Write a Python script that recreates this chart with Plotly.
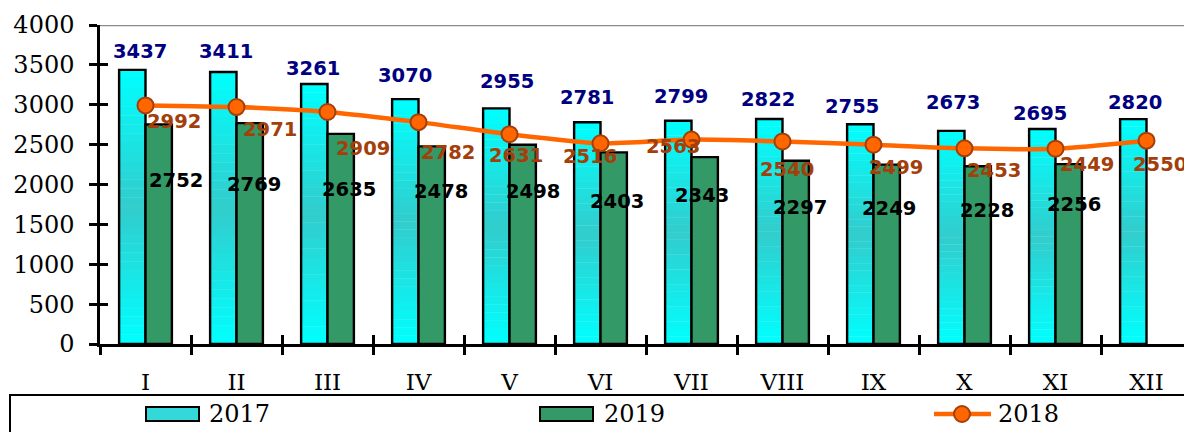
import plotly.graph_objects as go

# ---------------- data ----------------
months = ["I", "II", "III", "IV", "V", "VI", "VII", "VIII", "IX", "X", "XI", "XII"]
v2017 = [3437, 3411, 3261, 3070, 2955, 2781, 2799, 2822, 2755, 2673, 2695, 2820]
v2019 = [2752, 2769, 2635, 2478, 2498, 2403, 2343, 2297, 2249, 2228, 2256, None]
v2018 = [2992, 2971, 2909, 2782, 2631, 2516, 2563, 2540, 2499, 2453, 2449, 2550]
y_ticks = [0, 500, 1000, 1500, 2000, 2500, 3000, 3500, 4000]

# ---------------- label nudges (pixels, style only) ----------------
lab17_dx = [8, 3, -1, 0, 11, 0, 3, -1, -8, 2, -2, 2]
lab17_dy = [18, 20, 15, 24, 27, 25, 24, 19, 18, 28, 16, 17]
lab19_dx = [17, 4, 8, 9, 10, 3, -3, 4, 2, 9, 5, 0]
lab19_dy = [56, 61, 56, 45, 47, 49, 38, 47, 44, 44, 40, 0]
lab18_dx = [28, 33, 35, 29, 6, -11, -19, 4, 22, 29, 31, 13]
lab18_dy = [16, 22, 36, 30, 21, 13, 7, 28, 23, 22, 16, 24]

BW = 0.29
CYAN = (0, 255, 255)
TEAL = (51, 204, 204)
GREEN = "#339966"
ORANGE = "#FF6600"
BROWN = "#A33F0B"
NAVY = "#000080"
SERIF = "DejaVu Serif"
SANS = "DejaVu Sans"

xs = list(range(len(months)))
fig = go.Figure()

# 2017 bars with a vertical centre gradient (segments of each bar)
N = 30
for k in range(N):
    f = (k + 0.5) / N
    t = 1 - abs(2 * f - 1)
    col = "rgb(%d,%d,%d)" % tuple(round(CYAN[i] + (TEAL[i] - CYAN[i]) * t) for i in range(3))
    seg = [v / N * (1.04 if k < N - 1 else 1.0) for v in v2017]
    base = [v * k / N for v in v2017]
    fig.add_trace(go.Bar(x=xs, y=seg, base=base, offset=-BW, width=BW,
                         marker=dict(color=col, line=dict(width=0)),
                         hoverinfo="skip", showlegend=False))
# 2017 outline
fig.add_trace(go.Bar(x=xs, y=v2017, offset=-BW, width=BW, name="2017",
                     marker=dict(color="rgba(0,0,0,0)", line=dict(color="black", width=2.4))))
# 2019 bars
fig.add_trace(go.Bar(x=xs, y=v2019, offset=0, width=BW, name="2019",
                     marker=dict(color=GREEN, line=dict(color="black", width=2.4))))
# 2018 line
fig.add_trace(go.Scatter(x=xs, y=v2018, mode="lines+markers", name="2018",
                         line=dict(color=ORANGE, width=4.5, shape="spline", smoothing=0.6),
                         marker=dict(size=16, color=ORANGE, line=dict(color=BROWN, width=2))))
# helper trace for cross ticks axes
fig.add_trace(go.Scatter(x=[0], y=[0], xaxis="x2", yaxis="y2", mode="markers",
                         marker=dict(opacity=0), hoverinfo="skip", showlegend=False))

bounds = [i - 0.5 for i in range(len(months) + 1)]

ann = []
for i, v in enumerate(v2017):
    ann.append(dict(x=i - BW / 2, y=v, xref="x", yref="y", text="<b>%d</b>" % v,
                    showarrow=False, xshift=lab17_dx[i], yshift=lab17_dy[i],
                    font=dict(family=SANS, size=19.5, color=NAVY)))
for i, v in enumerate(v2019):
    if v is None:
        continue
    ann.append(dict(x=i + BW / 2, y=v, xref="x", yref="y", text="<b>%d</b>" % v,
                    showarrow=False, xshift=lab19_dx[i], yshift=-lab19_dy[i],
                    font=dict(family=SANS, size=19.5, color="black")))
for i, v in enumerate(v2018):
    ann.append(dict(x=i, y=v, xref="x", yref="y", text="<b>%d</b>" % v,
                    showarrow=False, xshift=lab18_dx[i], yshift=-lab18_dy[i],
                    font=dict(family=SANS, size=19.5, color=BROWN)))

# ---- manual legend (paper coords: plot spans x 100..1192 px, y 25..344 px on the page) ----
def px(x):
    return (x - 100) / 1092.0

def py(y):
    return (344 - y) / 319.0

LY = 414
shapes = [
    dict(type="line", xref="paper", yref="y", x0=0, x1=1, y0=4000, y1=4000,
         line=dict(color="#8C8C8C", width=2.5), layer="below"),
    dict(type="rect", xref="paper", yref="paper", x0=px(10), x1=px(1191), y0=py(395), y1=py(470),
         line=dict(color="black", width=2), fillcolor="rgba(0,0,0,0)"),
    dict(type="rect", xref="paper", yref="paper", x0=px(146), x1=px(199), y0=py(407), y1=py(421),
         line=dict(color="black", width=2), fillcolor="#33D8D8"),
    dict(type="rect", xref="paper", yref="paper", x0=px(540), x1=px(593), y0=py(407), y1=py(421),
         line=dict(color="black", width=2), fillcolor=GREEN),
    dict(type="line", xref="paper", yref="paper", x0=px(934), x1=px(991), y0=py(LY), y1=py(LY),
         line=dict(color=ORANGE, width=4.5)),
    dict(type="circle", xref="paper", yref="paper", xsizemode="pixel", ysizemode="pixel",
         xanchor=px(962), yanchor=py(LY), x0=-8, x1=8, y0=-8, y1=8,
         line=dict(color=BROWN, width=2), fillcolor=ORANGE),
]
for xx, txt in [(207, "2017"), (602, "2019"), (996, "2018")]:
    ann.append(dict(x=px(xx), y=py(LY), xref="paper", yref="paper", text=txt, showarrow=False,
                    xanchor="left", yanchor="middle", font=dict(family=SERIF, size=24, color="black")))

# page has an 8px body margin: the figure starts at (8, 8)
fig.update_layout(
    width=1184, height=424,
    margin=dict(l=92, r=0, t=17, b=88),
    plot_bgcolor="white", paper_bgcolor="white",
    barmode="overlay", showlegend=False,
    annotations=ann, shapes=shapes,
    xaxis=dict(range=[-0.5, 11.5], tickmode="array", tickvals=xs, ticktext=months,
               ticks="outside", ticklen=8, tickcolor="rgba(0,0,0,0)",
               showline=True, linecolor="black", linewidth=2.5, showgrid=False, zeroline=False,
               tickfont=dict(family=SERIF, size=23, color="black"), ticklabelstandoff=8,
               minor=dict(tickmode="array", tickvals=bounds, ticks="outside", ticklen=8,
                          tickwidth=2.5, tickcolor="black", showgrid=False)),
    yaxis=dict(range=[0, 4000], tickmode="array", tickvals=y_ticks,
               ticks="outside", ticklen=8, tickwidth=2.5, tickcolor="black",
               showline=True, linecolor="black", linewidth=2.5, showgrid=False, zeroline=False,
               tickfont=dict(family=SERIF, size=24, color="black"), ticklabelstandoff=10),
    xaxis2=dict(range=[-0.5, 11.5], overlaying="x", anchor="y2", side="bottom",
                tickmode="array", tickvals=bounds, ticks="inside", ticklen=9, tickwidth=2.5,
                tickcolor="black", showticklabels=False, showline=False, showgrid=False, zeroline=False),
    yaxis2=dict(range=[0, 4000], overlaying="y", anchor="x2", side="left",
                tickmode="array", tickvals=y_ticks, ticks="inside", ticklen=8, tickwidth=2.5,
                tickcolor="black", showticklabels=False, showline=False, showgrid=False, zeroline=False),
)

fig.write_html("out.html")
